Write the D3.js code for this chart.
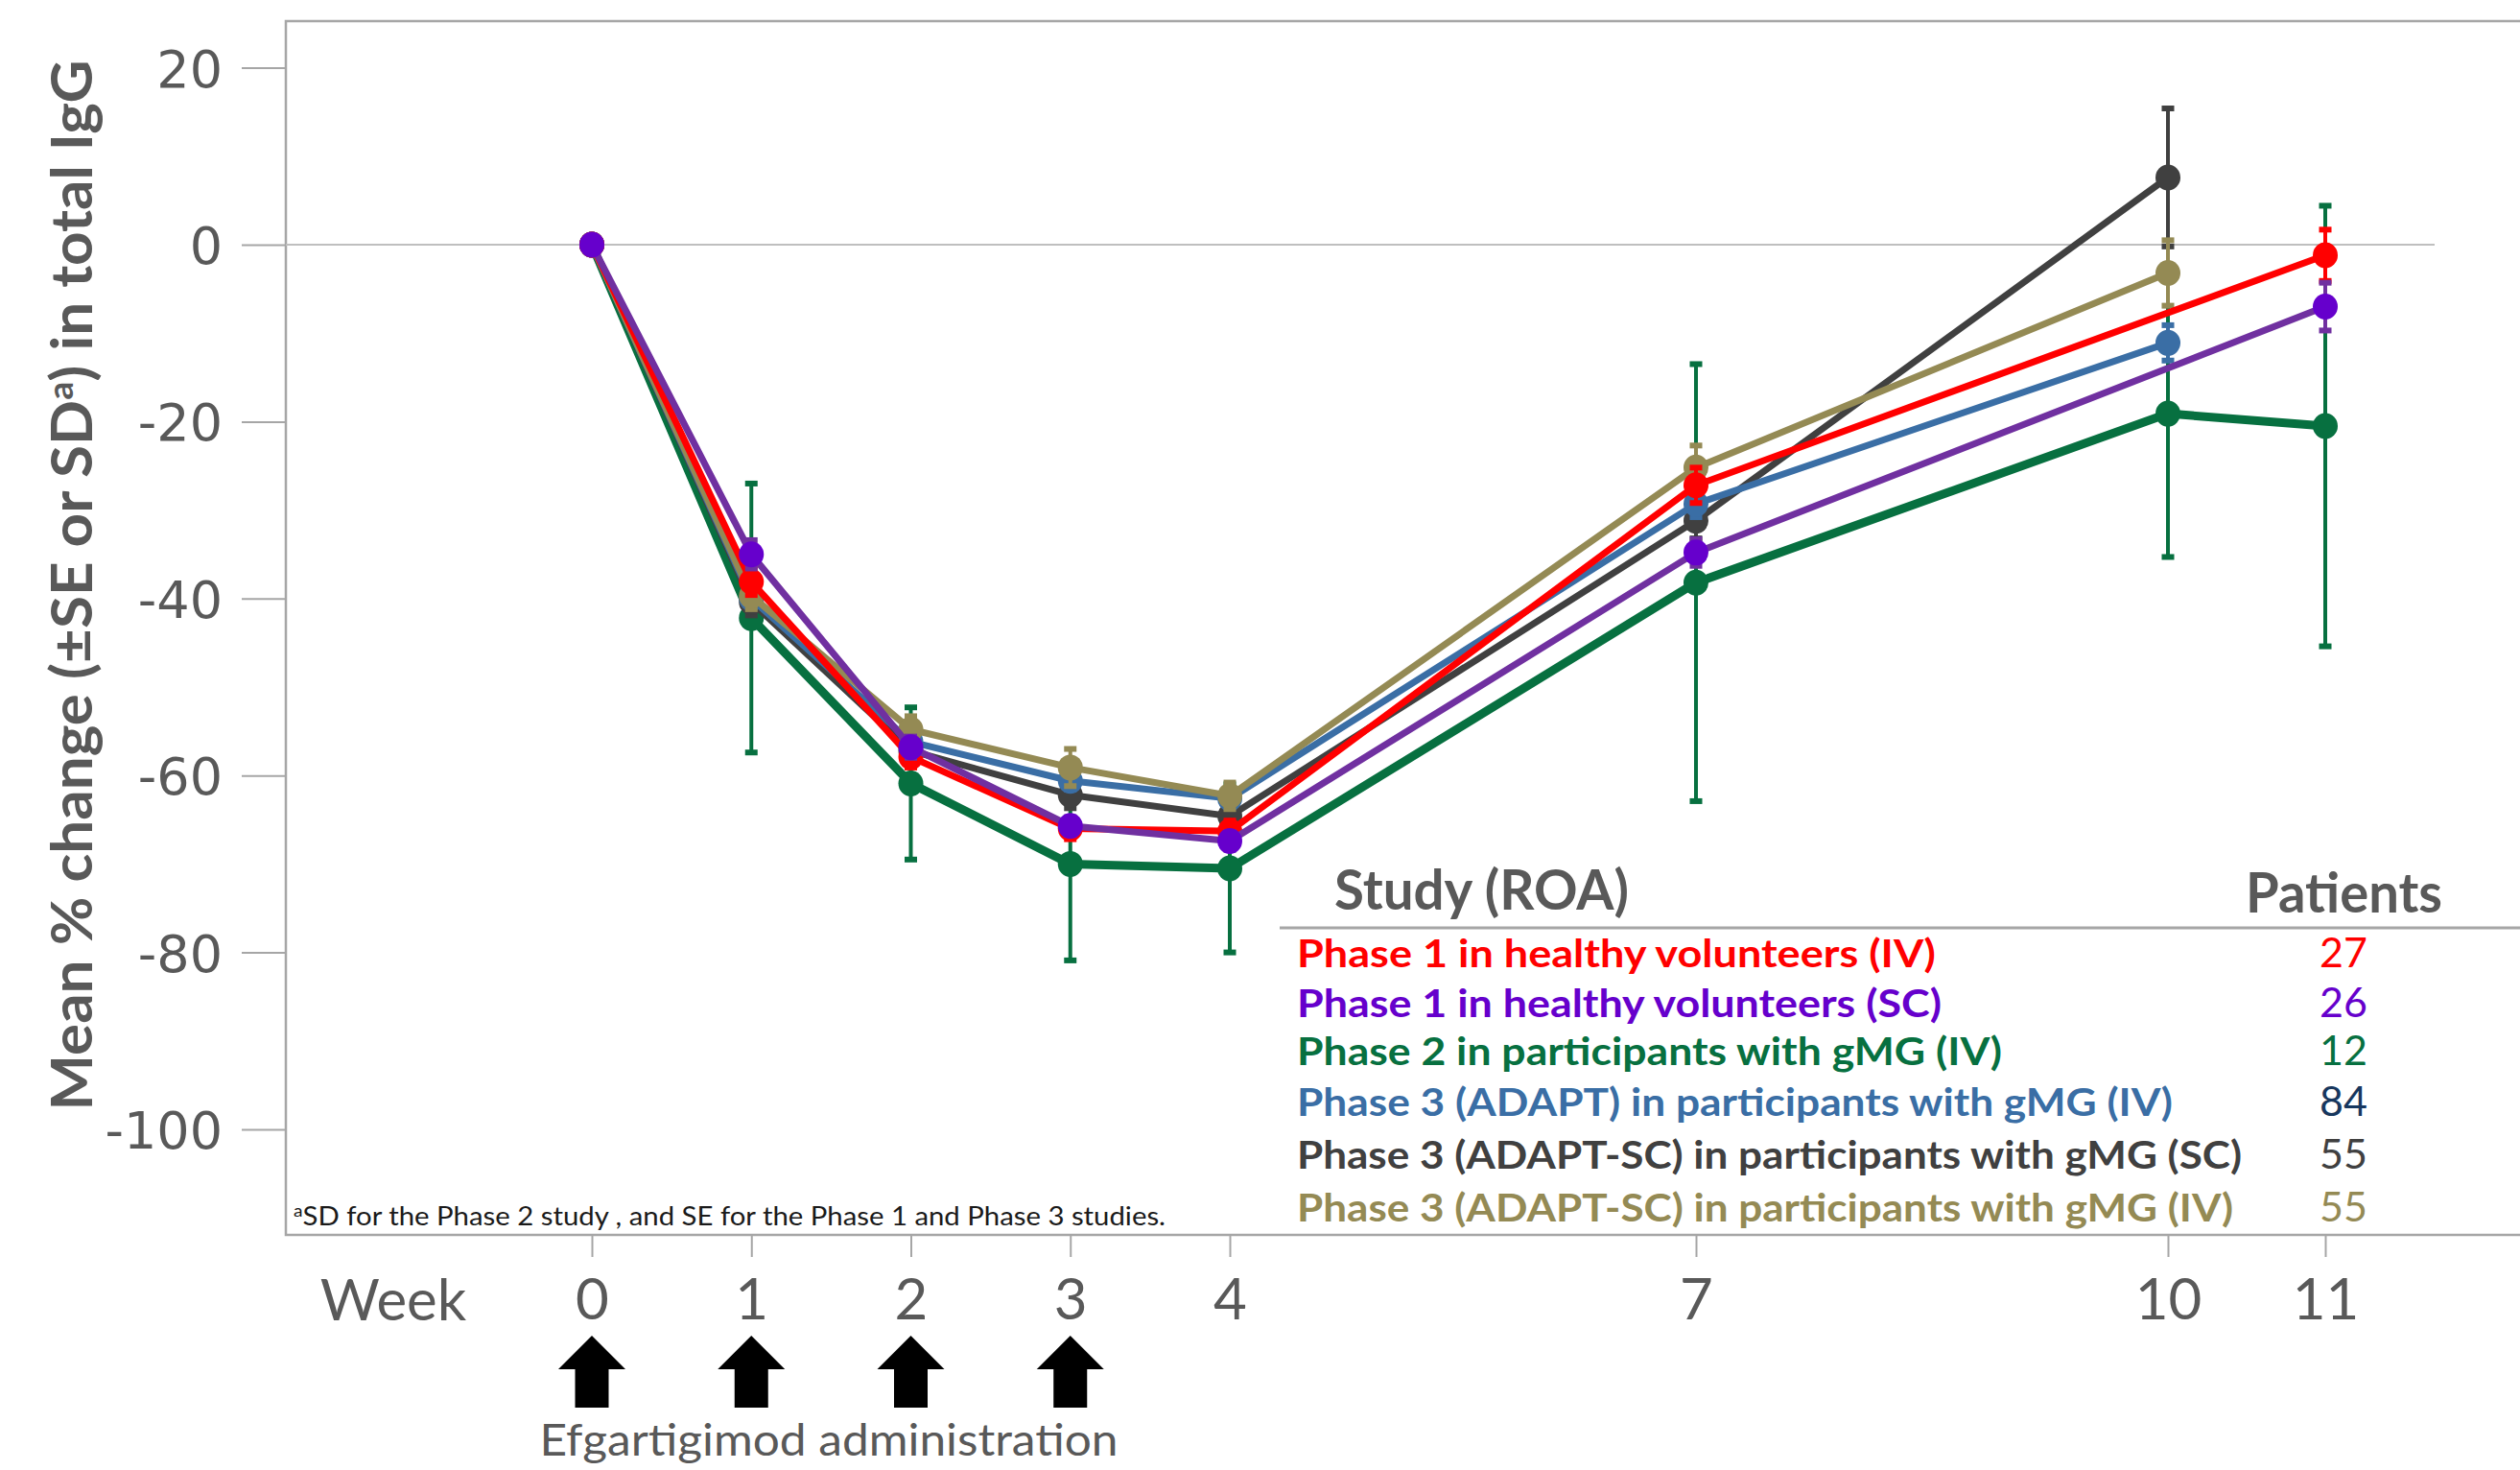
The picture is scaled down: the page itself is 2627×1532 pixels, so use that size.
<!DOCTYPE html>
<html>
<head>
<meta charset="utf-8">
<script src="https://cdn.jsdelivr.net/npm/d3@7"></script>
<style>
  body { margin: 0; background: #fff; }
  svg { display: block; }
</style>
</head>
<body>
<div id="chart"></div>
<script>
const width = 2627, height = 1532;

// data
const weeks = [0, 1, 2, 3, 4, 7, 10, 11];
const yTicks = [20, 0, -20, -40, -60, -80, -100];
const adminWeeks = [0, 1, 2, 3];

const seriesNames = [
  "Phase 1 in healthy volunteers (IV)",
  "Phase 1 in healthy volunteers (SC)",
  "Phase 2 in participants with gMG (IV)",
  "Phase 3 (ADAPT) in participants with gMG (IV)",
  "Phase 3 (ADAPT-SC) in participants with gMG (SC)",
  "Phase 3 (ADAPT-SC) in participants with gMG (IV)"
];
const patients = [27, 26, 12, 84, 55, 55];

const p1ivMean = [0, -38.1, -57.9, -66.0, -66.3, -27.2, null, -1.2];
const p1ivErr  = [0, 1.5, 1.2, 1.2, 1.2, 2.0, null, 2.9];
const p1scMean = [0, -35.0, -56.8, -65.7, -67.4, -34.8, null, -7.0];
const p1scErr  = [0, 1.6, 1.2, 1.0, 1.0, 1.5, null, 2.7];
const p2Mean   = [0, -42.2, -60.9, -70.0, -70.5, -38.2, -19.1, -20.5];
const p2Err    = [0, 15.2, 8.6, 10.9, 9.5, 24.7, 16.2, 24.9];
const p3Mean   = [0, -40.0, -56.2, -60.6, -62.6, -29.3, -11.1, null];
const p3Err    = [0, 1.0, 1.0, 1.0, 1.0, 1.5, 2.0, null];
const p3scMean = [0, -40.4, -57.2, -62.2, -64.6, -31.2, 7.6, null];
const p3scErr  = [0, 1.5, 1.5, 1.5, 1.5, 2.0, 7.8, null];
const p3ivMean = [0, -39.7, -54.8, -59.1, -62.3, -25.2, -3.2, null];
const p3ivErr  = [0, 1.5, 1.5, 2.1, 1.5, 2.5, 3.7, null];

const lineColors   = ["#ff0000", "#7030a0", "#077040", "#3a6ea5", "#404040", "#948a54"];
const markerColors = ["#ff0000", "#6600cc", "#077040", "#3a6ea5", "#404040", "#948a54"];
const textColors   = ["#ff0000", "#6600cc", "#077040", "#3a6ea5", "#404040", "#948a54"];
const numColors    = ["#ff0000", "#6600cc", "#077040", "#17375e", "#404040", "#948a54"];

const means = [p1ivMean, p1scMean, p2Mean, p3Mean, p3scMean, p3ivMean];
const errs  = [p1ivErr, p1scErr, p2Err, p3Err, p3scErr, p3ivErr];
const strokeW = [7, 7, 9, 7, 7, 7];
const drawOrder = [2, 4, 3, 5, 0, 1];

const gray = "#595959";
const frame = { left: 298, top: 22, bottom: 1287, right: 2640 };

const x = d3.scaleLinear().domain([0, 4, 7, 11]).range([617, 1282, 1768, 2424]);
const y = d3.scaleLinear().domain([0, -100]).range([255, 1177]);

const svg = d3.select("#chart")
  .append("svg")
    .attr("width", width)
    .attr("height", height);

// frame
svg.append("rect")
    .attr("x", frame.left)
    .attr("y", frame.top)
    .attr("width", frame.right - frame.left)
    .attr("height", frame.bottom - frame.top)
    .attr("fill", "none")
    .attr("stroke", "#a6a6a6")
    .attr("stroke-width", 2.5);

// y axis (ticks outside the frame only)
const yAxis = d3.axisLeft(y)
  .tickValues(yTicks)
  .tickSize(46)
  .tickPadding(20)
  .tickFormat(d => d3.format("d")(d).replace("−", "-"));
const yG = svg.append("g")
    .attr("transform", `translate(${frame.left},0)`)
    .call(yAxis);
yG.select(".domain").remove();
yG.selectAll(".tick line").attr("stroke", "#a6a6a6").attr("stroke-width", 2);
yG.selectAll(".tick text")
    .attr("fill", gray)
    .attr("dy", "0.36em")
    .style("font-family", "'DejaVu Sans'")
    .style("font-size", "54px");

// zero reference line
svg.append("line")
    .attr("x1", frame.left).attr("x2", 2538)
    .attr("y1", y(0)).attr("y2", y(0))
    .attr("stroke", "#bfbfbf")
    .attr("stroke-width", 2);

// x axis
const xAxis = d3.axisBottom(x)
  .tickValues(weeks)
  .tickSize(23)
  .tickPadding(22)
  .tickFormat(d3.format("d"));
const xG = svg.append("g")
    .attr("transform", `translate(0,${frame.bottom})`)
    .call(xAxis);
xG.select(".domain").remove();
xG.selectAll(".tick line").attr("stroke", "#a6a6a6").attr("stroke-width", 2);
xG.selectAll(".tick text")
    .attr("fill", gray)
    .attr("dy", "0.71em")
    .style("font-family", "Lato")
    .style("font-size", "60px");

svg.append("text")
    .attr("x", 410)
    .attr("y", 1376)
    .attr("text-anchor", "middle")
    .attr("fill", gray)
    .style("font-family", "Lato")
    .style("font-size", "60px")
    .text("Week");

// y title
const yTitle = svg.append("text")
    .attr("transform", "translate(96,610) rotate(-90)")
    .attr("text-anchor", "middle")
    .attr("fill", gray)
    .attr("textLength", 1095)
    .attr("lengthAdjust", "spacingAndGlyphs")
    .style("font-family", "Lato")
    .style("font-weight", 700)
    .style("font-size", "59px");
yTitle.append("tspan").text("Mean % change (±SE or SD");
yTitle.append("tspan").attr("dy", -20).style("font-size", "36px").text("a");
yTitle.append("tspan").attr("dy", 20).text(") in total IgG");

// series
const line = d3.line().x(d => x(d.w)).y(d => y(d.v));

drawOrder.forEach(i => {
  const pts = weeks.map((w, j) => ({ w: w, v: means[i][j], e: errs[i][j] }))
    .filter(d => d.v !== null);
  const g = svg.append("g").attr("class", `series-${i}`);

  // error bars
  const eb = g.selectAll("g.err")
    .data(pts.filter(d => d.e > 0))
    .join("g")
      .attr("class", "err");
  eb.append("line")
      .attr("x1", d => x(d.w)).attr("x2", d => x(d.w))
      .attr("y1", d => y(d.v + d.e)).attr("y2", d => y(d.v - d.e))
      .attr("stroke", lineColors[i])
      .attr("stroke-width", 4);
  [1, -1].forEach(s => {
    eb.append("rect")
        .attr("x", d => x(d.w) - 6.5)
        .attr("y", d => y(d.v + s * d.e) - 3)
        .attr("width", 13)
        .attr("height", 6)
        .attr("fill", lineColors[i]);
  });

  g.append("path")
      .datum(pts)
      .attr("d", line)
      .attr("fill", "none")
      .attr("stroke", lineColors[i])
      .attr("stroke-width", strokeW[i])
      .attr("stroke-linejoin", "round");

  g.selectAll("ellipse")
    .data(pts)
    .join("ellipse")
      .attr("cx", d => x(d.w))
      .attr("cy", d => y(d.v))
      .attr("rx", 13)
      .attr("ry", 13.5)
      .attr("fill", markerColors[i]);
});

// footnote
const foot = svg.append("text")
    .attr("x", 306)
    .attr("y", 1277)
    .attr("fill", "#1a1a1a")
    .attr("textLength", 909)
    .attr("lengthAdjust", "spacingAndGlyphs")
    .style("font-family", "Lato")
    .style("font-size", "26px");
foot.append("tspan").attr("dy", -9).style("font-size", "17px").text("a");
foot.append("tspan").attr("dy", 9).text("SD for the Phase 2 study , and SE for the Phase 1 and Phase 3 studies.");

// legend table
svg.append("text")
    .attr("x", 1391).attr("y", 948)
    .attr("fill", gray)
    .attr("textLength", 307)
    .attr("lengthAdjust", "spacingAndGlyphs")
    .style("font-family", "Lato").style("font-weight", 700).style("font-size", "58px")
    .text("Study (ROA)");
svg.append("text")
    .attr("x", 2341).attr("y", 951)
    .attr("fill", gray)
    .attr("textLength", 205)
    .attr("lengthAdjust", "spacingAndGlyphs")
    .style("font-family", "Lato").style("font-weight", 700).style("font-size", "58px")
    .text("Patients");
svg.append("line")
    .attr("x1", 1334).attr("x2", width)
    .attr("y1", 967).attr("y2", 967)
    .attr("stroke", "#a6a6a6")
    .attr("stroke-width", 3);

const rowBase = [1008, 1060, 1110, 1163, 1218, 1273];
const rowWidth = [666, 672, 735, 913, 985, 976];
const rows = svg.append("g")
  .selectAll("g")
  .data(seriesNames)
  .join("g");
rows.append("text")
    .attr("x", 1352)
    .attr("y", (d, i) => rowBase[i])
    .attr("fill", (d, i) => textColors[i])
    .attr("textLength", (d, i) => rowWidth[i])
    .attr("lengthAdjust", "spacingAndGlyphs")
    .style("font-family", "Lato").style("font-weight", 700).style("font-size", "41px")
    .text(d => d);
rows.append("text")
    .attr("x", 2443)
    .attr("y", (d, i) => rowBase[i])
    .attr("text-anchor", "middle")
    .attr("fill", (d, i) => numColors[i])
    .style("font-family", "Lato").style("font-size", "43px")
    .text((d, i) => patients[i]);

// administration arrows
const arrow = "M0,0 L35,35 L17.5,35 L17.5,75 L-17.5,75 L-17.5,35 L-35,35 Z";
svg.selectAll("path.arrow")
  .data(adminWeeks)
  .join("path")
    .attr("class", "arrow")
    .attr("d", arrow)
    .attr("transform", d => `translate(${x(d)},1392)`)
    .attr("fill", "#000");

svg.append("text")
    .attr("x", 864).attr("y", 1517)
    .attr("text-anchor", "middle")
    .attr("fill", gray)
    .attr("textLength", 603)
    .attr("lengthAdjust", "spacingAndGlyphs")
    .style("font-family", "Lato").style("font-size", "46px")
    .text("Efgartigimod administration");
</script>
</body>
</html>
